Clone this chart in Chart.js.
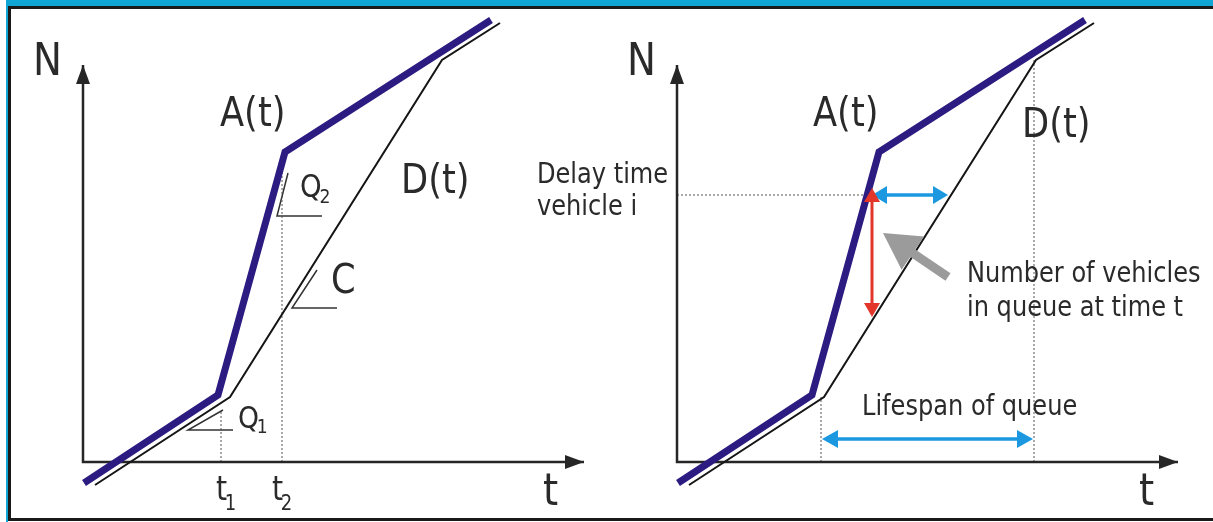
<!DOCTYPE html>
<html>
<head>
<meta charset="utf-8">
<script src="https://cdn.jsdelivr.net/npm/chart.js@4.4.1/dist/chart.umd.min.js"></script>
<style>
  html, body { margin: 0; padding: 0; background: #fff; }
  #wrap { position: relative; width: 1213px; height: 522px; overflow: hidden; background: #fff; }
  #wrap canvas { position: absolute; left: 0; top: 0; }
  .bar { position: absolute; }
</style>
</head>
<body>
<div id="wrap">
  <div class="bar" style="left:6px;top:0;width:1207px;height:6px;background:#0fa6d6"></div>
  <div class="bar" style="left:6px;top:0;width:2px;height:522px;background:#0fa6d6"></div>
  <div class="bar" style="left:8px;top:6px;width:1205px;height:3px;background:#1a1a1a"></div>
  <div class="bar" style="left:8px;top:6px;width:3px;height:515px;background:#1a1a1a"></div>
  <div class="bar" style="left:8px;top:518px;width:1205px;height:3px;background:#1a1a1a"></div>
  <canvas id="left" width="1213" height="522"></canvas>
  <canvas id="right" width="1213" height="522"></canvas>
</div>
<script>
// Cumulative arrivals A(t) and departures D(t), same curves in both panels
const T_A = [0.1, 13.5, 20.2, 40.8];
const N_A = [-2.1, 6.7, 31.0, 44.2];
const T_D = [1.2, 14.7, 35.9, 41.7];
const N_D = [-2.3, 6.5, 40.2, 43.9];

// axes (t, N)
const AXIS_T = [0, 0, 50.1];
const AXIS_N = [39.7, 0, 0];

// left panel: t1 / t2 guides and slope marks Q1, Q2, C
const GUIDE_T1 = { t: [13.8, 13.8], n: [0, 5.2] };
const GUIDE_T2 = { t: [19.9, 19.9], n: [0, 29.7] };
const SLOPE_Q1 = { t: [14.0, 10.5, 15.0], n: [5.2, 3.2, 3.2] };
const SLOPE_Q2 = { t: [20.5, 19.4, 23.9], n: [28.9, 24.6, 24.6] };
const SLOPE_C  = { t: [23.4, 20.9, 25.4], n: [19.2, 15.4, 15.4] };

// right panel guides
const GUIDE_DELAY = { t: [0, 18.9], n: [26.7, 26.7] };
const GUIDE_START = { t: [14.4, 14.4], n: [0, 6.5] };
const GUIDE_END   = { t: [35.7, 35.7], n: [0, 40.2] };

// text labels: [text, t, N, size, subscript, drop]
const LABELS_LEFT = [
  ['N', -5.0, 38.7, 45],
  ['A(t)', 13.7, 33.6, 41],
  ['D(t)', 31.8, 26.9, 41],
  ['Q', 21.7, 26.5, 32, '2', 0.2],
  ['C', 24.8, 16.9, 41],
  ['Q', 15.5, 3.4, 31, '1', 0.17],
  ['t', 13.3, -3.8, 33, '1', 0.3],
  ['t', 18.9, -3.8, 33, '2', 0.3],
  ['t', 46.0, -4.3, 45]
];
const LABELS_RIGHT = [
  ['N', -5.0, 38.7, 45],
  ['A(t)', 13.6, 33.6, 41],
  ['D(t)', 34.5, 32.5, 41],
  ['t', 46.2, -4.3, 45],
  ['Delay time', -14.0, 27.9, 28],
  ['vehicle i', -14.0, 24.7, 28],
  ['Number of vehicles', 29.0, 18.0, 28],
  ['in queue at time t', 29.0, 14.6, 28],
  ['Lifespan of queue', 18.5, 4.7, 28]
];

// arrows: [t0, N0, t1, N1, colour, line width, head length, head half width, both ends]
const AXIS_ARROWS = [
  [0, 36, 0, 39.7, '#262626', 0, 19, 7, false],
  [47, 0, 50.1, 0, '#262626', 0, 19, 7, false]
];
const ARROWS_RIGHT = [
  [19.5, 26.7, 27.1, 26.7, '#1b98e0', 3.5, 15, 9, true],
  [19.5, 27.4, 19.5, 14.5, '#e2362b', 3, 14, 8, true],
  [14.5, 2.3, 35.6, 2.3, '#1b98e0', 3.5, 16, 9, true],
  [27.1, 18.5, 20.6, 22.9, '#9b9b9b', 9, 36, 20, false]
];

const FONT = '"DejaVu Sans", Verdana, sans-serif';
const SQUEEZE = 0.86;
const NAVY = '#2c1b80';
const INK = '#151515';

const pts = (ts, ns) => ts.map((t, i) => ({ x: t, y: ns[i] }));

function line(data, color, width, dash) {
  return {
    data, showLine: true, borderColor: color, borderWidth: width,
    borderDash: dash || [], pointRadius: 0, fill: false, tension: 0,
    borderJoinStyle: 'miter', borderCapStyle: 'butt'
  };
}

function drawArrow(ctx, ax, ay, bx, by, color, lw, hl, hw, both) {
  const ang = Math.atan2(by - ay, bx - ax);
  const head = (x, y, a) => {
    ctx.beginPath();
    ctx.moveTo(x, y);
    ctx.lineTo(x - hl * Math.cos(a) + hw * Math.sin(a), y - hl * Math.sin(a) - hw * Math.cos(a));
    ctx.lineTo(x - hl * Math.cos(a) - hw * Math.sin(a), y - hl * Math.sin(a) + hw * Math.cos(a));
    ctx.closePath();
    ctx.fill();
  };
  ctx.save();
  ctx.strokeStyle = color;
  ctx.fillStyle = color;
  if (lw > 0) {
    const sx = both ? ax + hl * 0.8 * Math.cos(ang) : ax;
    const sy = both ? ay + hl * 0.8 * Math.sin(ang) : ay;
    ctx.lineWidth = lw;
    ctx.beginPath();
    ctx.moveTo(sx, sy);
    ctx.lineTo(bx - hl * 0.8 * Math.cos(ang), by - hl * 0.8 * Math.sin(ang));
    ctx.stroke();
  }
  head(bx, by, ang);
  if (both) head(ax, ay, ang + Math.PI);
  ctx.restore();
}

function overlay(labels, arrows) {
  return {
    id: 'overlay',
    afterDatasetsDraw(chart) {
      const { ctx, scales: { x, y } } = chart;
      arrows.forEach(a => drawArrow(ctx,
        x.getPixelForValue(a[0]), y.getPixelForValue(a[1]),
        x.getPixelForValue(a[2]), y.getPixelForValue(a[3]),
        a[4], a[5], a[6], a[7], a[8]));

      ctx.save();
      ctx.fillStyle = '#2a2a2a';
      ctx.textBaseline = 'alphabetic';
      ctx.textAlign = 'left';
      labels.forEach(([text, t, n, size, sub, drop]) => {
        ctx.save();
        ctx.translate(x.getPixelForValue(t), y.getPixelForValue(n));
        ctx.scale(SQUEEZE, 1);
        ctx.font = size + 'px ' + FONT;
        ctx.fillText(text, 0, 0);
        if (sub) {
          const w = ctx.measureText(text).width;
          ctx.font = Math.round(size * 0.64) + 'px ' + FONT;
          ctx.fillText(sub, w - size * 0.08, size * drop);
        }
        ctx.restore();
      });
      ctx.restore();
    }
  };
}

function buildPanel(id, tMin, tMax, extra, labels, arrows) {
  const datasets = [
    line(pts(T_A, N_A), NAVY, 7),
    line(pts(T_D, N_D), INK, 2),
    line(pts(AXIS_T, AXIS_N), '#262626', 2.5)
  ].concat(extra);

  return new Chart(document.getElementById(id), {
    type: 'scatter',
    data: { datasets },
    options: {
      responsive: false,
      animation: false,
      events: [],
      layout: { padding: 0 },
      plugins: { legend: { display: false }, tooltip: { enabled: false } },
      scales: {
        x: { type: 'linear', min: tMin, max: tMax, display: false },
        y: { type: 'linear', min: -6, max: 46.2, display: false }
      }
    },
    plugins: [overlay(labels, arrows)]
  });
}

const dotted = g => line(pts(g.t, g.n), '#555', 1, [2, 2]);
const mark = g => line(pts(g.t, g.n), '#333', 1.5);

buildPanel('left', -8.3, 113.0,
  [dotted(GUIDE_T1), dotted(GUIDE_T2), mark(SLOPE_Q1), mark(SLOPE_Q2), mark(SLOPE_C)],
  LABELS_LEFT, AXIS_ARROWS);

buildPanel('right', -67.7, 53.6,
  [dotted(GUIDE_DELAY), dotted(GUIDE_START), dotted(GUIDE_END)],
  LABELS_RIGHT, AXIS_ARROWS.concat(ARROWS_RIGHT));
</script>
</body>
</html>
